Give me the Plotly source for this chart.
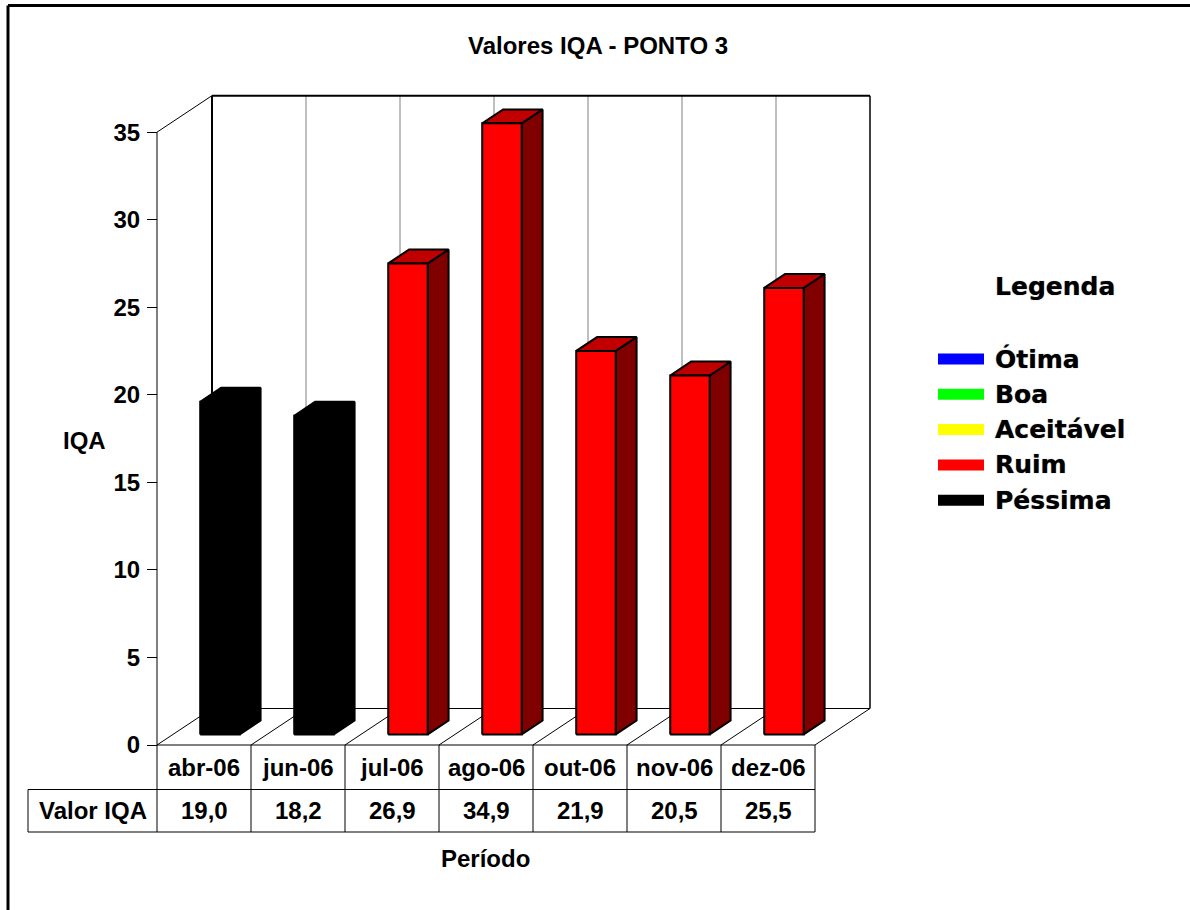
import plotly.graph_objects as go

# ---- data ----
periodos = ["abr-06", "jun-06", "jul-06", "ago-06", "out-06", "nov-06", "dez-06"]
valores = [19.0, 18.2, 26.9, 34.9, 21.9, 20.5, 25.5]
classes = ["Péssima", "Péssima", "Ruim", "Ruim", "Ruim", "Ruim", "Ruim"]
legenda_nomes = ["Ótima", "Boa", "Aceitável", "Ruim", "Péssima"]
legenda_cores = ["#0000FF", "#00FF00", "#FFFF00", "#FF0000", "#000000"]
y_ticks = [0, 5, 10, 15, 20, 25, 30, 35]

# ---- styling / geometry ----
W, H = 1190, 910
ORIG_X, ORIG_Y = 157, 745          # pixel position of (category 0, IQA 0)
PX_CAT, PX_VAL = 94.0, 17.51       # pixels per category / per IQA unit
DX, DY = 55 / PX_CAT, 36.5 / PX_VAL  # oblique depth vector in data units
YMAX = 35
BAR_W = 0.42
D0, D1 = 0.29, 0.67                # bar front / back depth fraction
ROW1 = -(789.5 - ORIG_Y) / PX_VAL  # bottom of the period row
ROW2 = -(832 - ORIG_Y) / PX_VAL    # bottom of the value row
XLBL = (28 - ORIG_X) / PX_CAT      # left edge of the row-label cell
FONT = "Liberation Sans, Arial, sans-serif"

shade = {
    "Ótima": ("#0000FF", "#0000C0", "#000080"),
    "Boa": ("#00FF00", "#00C000", "#008000"),
    "Aceitável": ("#FFFF00", "#C0C000", "#808000"),
    "Ruim": ("#FF0000", "#C00000", "#800000"),
    "Péssima": ("#000000", "#000000", "#000000"),
}

n = len(periodos)
fig = go.Figure()


def seg(x0, y0, x1, y1, color="black", width=1.0):
    return dict(type="line", xref="x", yref="y", x0=x0, y0=y0, x1=x1, y1=y1,
                line=dict(color=color, width=width), layer="below")


shapes = []
# back wall grid lines at category boundaries
for i in range(1, n):
    shapes.append(seg(i + DX, DY, i + DX, YMAX + DY, "#808080", 1))
# back wall frame
shapes.append(seg(DX, DY, DX, YMAX + DY, "black", 2))
shapes.append(seg(DX, YMAX + DY, n + DX, YMAX + DY, "black", 2))
shapes.append(seg(n + DX, DY, n + DX, YMAX + DY, "black", 1.5))
# side wall top edge and front value axis
shapes.append(seg(0, YMAX, DX, YMAX + DY, "black", 1))
shapes.append(seg(0, 0, 0, YMAX, "black", 1))
# floor
shapes.append(seg(DX, DY, n + DX, DY, "black", 1))
for i in range(n + 1):
    shapes.append(seg(i, 0, i + DX, DY, "black", 1))
# data table
shapes.append(seg(0, 0, n, 0, "black", 1))
shapes.append(seg(XLBL, ROW1, n, ROW1, "black", 1))
shapes.append(seg(XLBL, ROW2, n, ROW2, "black", 1))
for i in range(n + 1):
    shapes.append(seg(i, 0, i, ROW2, "black", 1))
shapes.append(seg(XLBL, ROW1, XLBL, ROW2, "black", 1))

# outer chart frame (paper coordinates)
shapes.append(dict(type="line", xref="paper", yref="paper", x0=8 / W, y0=1 - 5.5 / H,
                   x1=1.0, y1=1 - 5.5 / H, line=dict(color="black", width=3)))
shapes.append(dict(type="line", xref="paper", yref="paper", x0=8 / W, y0=1 - 5.5 / H,
                   x1=8 / W, y1=0, line=dict(color="black", width=3)))

# ---- 3D bars ----
for i, (v, c) in enumerate(zip(valores, classes)):
    front, top, side = shade[c]
    xl = i + 0.5 - BAR_W / 2 + D0 * DX
    xr = i + 0.5 + BAR_W / 2 + D0 * DX
    yb = D0 * DY
    yt = v + D0 * DY
    ddx, ddy = (D1 - D0) * DX, (D1 - D0) * DY
    faces = [
        ([xr, xr + ddx, xr + ddx, xr, xr], [yb, yb + ddy, yt + ddy, yt, yb], side),
        ([xl, xr, xr + ddx, xl + ddx, xl], [yt, yt, yt + ddy, yt + ddy, yt], top),
        ([xl, xr, xr, xl, xl], [yb, yb, yt, yt, yb], front),
    ]
    for fx, fy, col in faces:
        fig.add_trace(go.Scatter(x=fx, y=fy, mode="lines", fill="toself",
                                 fillcolor=col, line=dict(color="black", width=2),
                                 hoverinfo="skip", showlegend=False))

annotations = []
txt = dict(family=FONT, size=24, color="black", weight="bold")


def label(x, y, text, font=txt, ref="x", xanchor="center"):
    annotations.append(dict(x=x, y=y, xref=ref, yref=ref.replace("x", "y"),
                            text=text, showarrow=False, font=font,
                            xanchor=xanchor, yanchor="middle"))


# table text
for i, (p, v) in enumerate(zip(periodos, valores)):
    label(i + 0.5, ROW1 / 2, p)
    label(i + 0.5, (ROW1 + ROW2) / 2, f"{v:.1f}".replace(".", ","))
label(XLBL / 2, (ROW1 + ROW2) / 2, "Valor IQA")
# titles
label(598 / W, 1 - 45 / H, "Valores IQA - PONTO 3", ref="paper")
label(84 / W, 1 - 440 / H, "IQA", ref="paper")
label(485 / W, 1 - 858 / H, "Período", ref="paper")

# legend block
leg_font = dict(family="DejaVu Sans, sans-serif", size=25, color="black",
                weight="bold", shadow="0px 0px 1px rgba(0,0,0,0.6)")
label(993 / W, 1 - 286 / H, "Legenda", font=leg_font, ref="paper", xanchor="left")
for k, (nome, cor) in enumerate(zip(legenda_nomes, legenda_cores)):
    cy = 359 + 35.3 * k
    shapes.append(dict(type="rect", xref="paper", yref="paper",
                       x0=938 / W, x1=984 / W, y0=1 - (cy - 5.5) / H, y1=1 - (cy + 5.5) / H,
                       fillcolor=cor, line=dict(width=0)))
    label(993 / W, 1 - cy / H, nome, font=leg_font, ref="paper", xanchor="left")

fig.update_layout(
    width=W, height=H, autosize=False,
    margin=dict(l=0, r=0, t=0, b=0, pad=0),
    paper_bgcolor="white", plot_bgcolor="white",
    showlegend=False,
    shapes=shapes, annotations=annotations,
    xaxis=dict(range=[-ORIG_X / PX_CAT, (W - ORIG_X) / PX_CAT], visible=False,
               fixedrange=True),
    yaxis=dict(range=[(ORIG_Y - H) / PX_VAL, ORIG_Y / PX_VAL],
               anchor="free", position=ORIG_X / W, side="left",
               tickvals=y_ticks, ticktext=[str(t) for t in y_ticks],
               ticks="outside", ticklen=10, tickwidth=1, tickcolor="black",
               tickfont=txt, ticklabelstandoff=2,
               showgrid=False, zeroline=False, showline=False, fixedrange=True),
)

fig.write_html("out.html")
